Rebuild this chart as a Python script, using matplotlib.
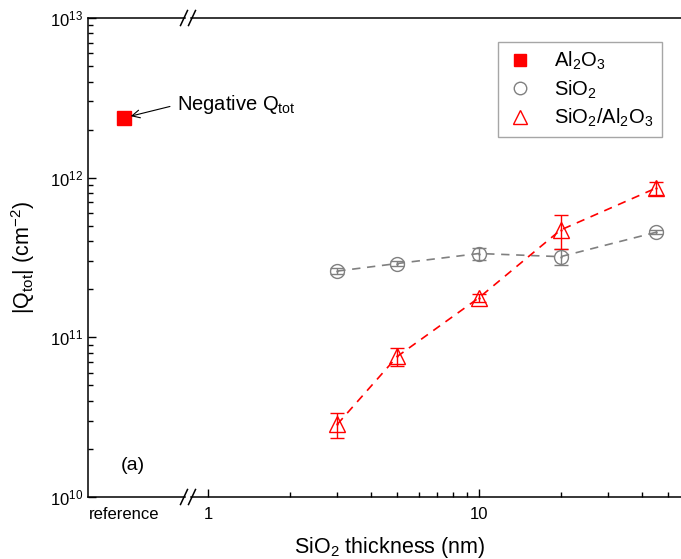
import matplotlib
matplotlib.use('Agg')
import matplotlib.pyplot as plt
from matplotlib.lines import Line2D
from matplotlib.ticker import LogLocator, FixedLocator, NullFormatter

plt.rcParams['font.family'] = ['Liberation Sans', 'DejaVu Sans']
plt.rcParams['mathtext.fontset'] = 'custom'
plt.rcParams['mathtext.rm'] = 'Liberation Sans'
plt.rcParams['mathtext.it'] = 'Liberation Sans'
plt.rcParams['mathtext.default'] = 'regular'

# data (Qtot in cm^-2)
ref_y = 2.37e12                       # Al2O3 reference, negative Qtot
thick = [3, 5, 10, 20, 45]            # SiO2 thickness (nm)
sio2_y = [2.6e11, 2.9e11, 3.35e11, 3.2e11, 4.55e11]
sio2_err = [0.12e11, 0.1e11, 0.3e11, 0.38e11, 0.12e11]
stack_y = [2.85e10, 7.6e10, 1.77e11, 4.7e11, 8.6e11]
stack_err = [0.5e10, 1.0e10, 0.1e11, 1.15e11, 0.8e11]

W, H = 681, 559
fig = plt.figure(figsize=(W / 100, H / 100), dpi=100)

def box(x0, x1, ytop=18, ybot=497):
    return [x0 / W, 1 - ybot / H, (x1 - x0) / W, (ybot - ytop) / H]

ax1 = fig.add_axes(box(88, 185))
ax2 = fig.add_axes(box(191, 700), sharey=ax1)
ax2.patch.set_visible(False)

red = '#ff0000'
gray = '#808080'

# reference part
ax1.plot([0], [ref_y], 's', color=red, ms=10)
ax1.set_xlim(-0.59, 1.0)
ax1.set_yscale('log')
ax1.set_ylim(1e10, 1e13)
ax1.set_xticks([0])
ax1.set_xticklabels(['reference'], fontsize=12)
ax1.tick_params(axis='x', length=0, pad=7)
ax1.yaxis.set_major_locator(LogLocator(base=10, numticks=10))
ax1.yaxis.set_minor_locator(LogLocator(base=10, subs=range(2, 10), numticks=10))
ax1.yaxis.set_minor_formatter(NullFormatter())
ax1.tick_params(axis='y', which='major', direction='in', length=6, width=1, labelsize=12)
ax1.tick_params(axis='y', which='minor', direction='in', length=3.5, width=1)
ax1.spines['right'].set_visible(False)
ax1.set_ylabel(r'|Q$_{tot}$| (cm$^{-2}$)', fontsize=15.5)
ax1.yaxis.set_label_coords(-0.53, 0.5)

ax1.annotate('Negative Q$_{tot}$', xy=(0, ref_y), xytext=(38, 9.4),
             textcoords='offset points', fontsize=14.5, ha='left', va='center',
             annotation_clip=False,
             arrowprops=dict(arrowstyle='->', color='black', lw=0.8,
                             relpos=(0, 0.5), shrinkA=3, shrinkB=5,
                             mutation_scale=14))

# thickness part
ax2.set_xscale('log')
ax2.set_xlim(0.866, 65.4)
ax2.errorbar(thick, sio2_y, yerr=sio2_err, fmt='none', ecolor=gray,
             elinewidth=1, capsize=5, capthick=1)
ax2.errorbar(thick, stack_y, yerr=stack_err, fmt='none', ecolor=red,
             elinewidth=1, capsize=5, capthick=1)
ax2.plot(thick, sio2_y, color=gray, ls=(0, (5, 4)), lw=1.2,
         marker='o', ms=10, mfc='none', mec=gray, mew=1)
ax2.plot(thick, stack_y, color=red, ls=(0, (5, 4)), lw=1.2,
         marker='^', ms=11, mfc='none', mec=red, mew=1)
ax2.plot(thick, sio2_y, '.', color=gray, ms=1.5)
ax2.plot(thick, stack_y, '.', color=red, ms=1.5)

ax2.xaxis.set_major_locator(FixedLocator([1, 10]))
ax2.xaxis.set_minor_locator(FixedLocator([2, 3, 4, 5, 6, 7, 8, 9, 20, 30, 40, 50, 60]))
ax2.xaxis.set_minor_formatter(NullFormatter())
ax2.set_xticklabels(['1', '10'])
ax2.tick_params(axis='x', which='major', direction='in', length=6, width=1, labelsize=12, pad=7)
ax2.tick_params(axis='x', which='minor', direction='in', length=3.5, width=1)
ax2.tick_params(axis='y', which='both', left=False, labelleft=False)
ax2.spines['left'].set_visible(False)
ax2.spines['right'].set_visible(False)

for a in (ax1, ax2):
    for s in a.spines.values():
        s.set_linewidth(1.1)

# axis break marks
for xc in (184, 192):
    for yc in (18, 497):
        fig.add_artist(Line2D([(xc - 3.5) / W, (xc + 3.5) / W],
                              [1 - (yc + 7.5) / H, 1 - (yc - 7.5) / H],
                              color='black', lw=1.1, transform=fig.transFigure))

fig.text(133 / W, 1 - 465 / H, '(a)', fontsize=14, ha='center', va='center')
fig.text(390 / W, 1 - 548 / H, 'SiO$_2$ thickness (nm)', fontsize=15.5,
         ha='center', va='center')

handles = [
    Line2D([], [], ls='none', marker='s', color=red, ms=9),
    Line2D([], [], ls='none', marker='o', mfc='none', mec=gray, ms=9),
    Line2D([], [], ls='none', marker='^', mfc='none', mec=red, ms=10),
]
labels = ['Al$_2$O$_3$', 'SiO$_2$', 'SiO$_2$/Al$_2$O$_3$']
leg = fig.legend(handles, labels, loc='upper left',
                 bbox_to_anchor=(498 / W, 1 - 42 / H), fontsize=14.5,
                 frameon=True, fancybox=False, edgecolor='#909090',
                 handlelength=1.4, handletextpad=1.0, labelspacing=0.3,
                 borderpad=0.4, borderaxespad=0)
leg.get_frame().set_linewidth(1)

fig.savefig('out.png', dpi=100)
